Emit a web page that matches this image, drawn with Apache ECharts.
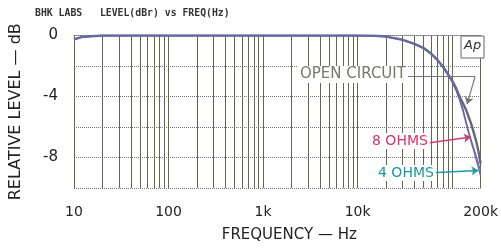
<!DOCTYPE html>
<html>
<head>
<meta charset="utf-8">
<script src="https://cdn.jsdelivr.net/npm/echarts@6/dist/echarts.min.js"></script>
<style>
  html, body { margin: 0; padding: 0; background: #fff; }
  #chart { width: 501px; height: 248px; }
</style>
</head>
<body>
<div id="chart"></div>
<script>
// frequencies (Hz)
var freqs = [10, 12, 15, 20, 30, 50, 100, 1000, 10000, 15000, 20000, 30000, 40000, 50000, 60000,
             70000, 80000, 90000, 100000, 110000, 120000, 130000, 140000, 150000, 160000,
             170000, 180000, 190000, 200000];
var openCircuit = [-0.25, -0.1, -0.05, 0, 0, 0, 0, 0, 0, -0.02, -0.07, -0.28, -0.55, -0.82, -1.18,
                   -1.6, -2.05, -2.5, -2.95, -3.45, -4.0, -4.45, -4.85, -5.35, -5.85,
                   -6.4, -6.95, -7.6, -8.4];
var ohms8 = [-0.25, -0.1, -0.05, 0, 0, 0, 0, 0, 0, -0.02, -0.07, -0.28, -0.56, -0.84, -1.2,
             -1.62, -2.08, -2.55, -3.0, -3.55, -4.15, -4.8, -5.6, -6.3, -6.9,
             -7.4, -7.9, -8.4, -8.9];
var ohms4 = [-0.25, -0.1, -0.05, 0, 0, 0, 0, 0, 0, -0.02, -0.07, -0.29, -0.57, -0.86, -1.22,
             -1.65, -2.1, -2.58, -3.05, -3.6, -4.25, -4.95, -5.75, -6.45, -7.05,
             -7.6, -8.15, -8.7, -9.2];

var xLabels = [10, 100, 1000, 10000, 200000];
var gridFreqs = [];
[10, 100, 1000, 10000].forEach(function (d) {
    for (var k = 1; k <= 9; k++) gridFreqs.push(d * k);
});
gridFreqs.push(100000, 200000);

function pairs(vals) {
    return freqs.map(function (f, i) { return [f, vals[i]]; });
}
function fmtFreq(v) {
    if (v >= 1000) return (v / 1000) + 'k';
    return String(v);
}

var chart = echarts.init(document.getElementById('chart'));

var labelFont = 'DejaVu Sans';

var option = {
    animation: false,
    backgroundColor: '#fff',
    grid: { left: 72, right: 17, top: 35.5, bottom: 60 },
    xAxis: {
        type: 'log',
        logBase: 10,
        min: 10,
        max: 200000,
        name: 'FREQUENCY — Hz',
        nameLocation: 'middle',
        nameGap: 40,
        nameTextStyle: { fontFamily: labelFont, fontSize: 15, color: '#222', padding: [0, 0, 0, 24] },
        axisLine: { show: true, lineStyle: { color: '#777', type: 'dotted' } },
        axisTick: { show: false, customValues: gridFreqs },
        axisLabel: {
            customValues: xLabels,
            formatter: fmtFreq,
            fontFamily: labelFont,
            fontSize: 14,
            color: '#222',
            margin: 17
        },
        splitLine: { show: true, lineStyle: { color: '#66664f', width: 1 } }
    },
    yAxis: {
        type: 'value',
        min: -10,
        max: 0,
        interval: 2,
        name: 'RELATIVE LEVEL — dB',
        nameLocation: 'middle',
        nameGap: 50,
        nameTextStyle: { fontFamily: labelFont, fontSize: 16, color: '#222' },
        axisLine: { show: false },
        axisTick: { show: false },
        axisLabel: {
            formatter: function (v) { return (v % 4 === 0 && v > -10) ? String(v) : ''; },
            fontFamily: labelFont,
            fontSize: 15,
            color: '#222',
            margin: 16
        },
        splitLine: { show: true, lineStyle: { color: '#777', type: 'dotted' } }
    },
    series: [
        {
            name: 'open circuit',
            type: 'line',
            data: pairs(openCircuit),
            showSymbol: false,
            lineStyle: { color: '#66666f', width: 2.4 },
            markLine: {
                silent: true,
                symbol: ['none', 'none'],
                label: { show: false },
                lineStyle: { color: '#777', width: 1.2, type: 'solid' },
                data: [[{ coord: [34000, -2.7] }, { coord: [175000, -2.7] }]]
            }
        },
        {
            name: '8 ohms',
            type: 'line',
            data: pairs(ohms8),
            showSymbol: false,
            lineStyle: { color: '#8a64aa', width: 1.3 },
            markLine: {
                silent: true,
                symbol: ['none', 'arrow'],
                symbolSize: 7,
                label: { show: false },
                data: [
                    [{ coord: [175000, -2.7], lineStyle: { color: '#777', width: 1.2, type: 'solid' } },
                     { coord: [144000, -4.5] }],
                    [{ coord: [56000, -7.05], lineStyle: { color: '#c8407a', width: 1.5, type: 'solid' } },
                     { coord: [158000, -6.66] }],
                    [{ coord: [61000, -9.0], lineStyle: { color: '#1a9e9e', width: 1.5, type: 'solid' } },
                     { coord: [190000, -8.85] }]
                ]
            }
        },
        {
            name: '4 ohms',
            type: 'line',
            data: pairs(ohms4),
            showSymbol: false,
            lineStyle: { color: '#5a6cb0', width: 1.3 }
        }
    ],
    graphic: [
        {
            type: 'text', left: 35, top: 8,
            style: { text: 'BHK LABS   LEVEL(dBr) vs FREQ(Hz)', fontFamily: 'DejaVu Sans Mono',
                     fontWeight: 'bold', fontSize: 9.8, fill: '#333' }
        },
        {
            type: 'text', left: 298, top: 66, z: 10,
            style: { text: 'OPEN CIRCUIT', fontFamily: labelFont, fontSize: 15, fill: '#77776a',
                     backgroundColor: '#fff', padding: [1, 2, 1, 2] }
        },
        {
            type: 'text', left: 370, top: 133, z: 10,
            style: { text: '8 OHMS', fontFamily: labelFont, fontSize: 14, fill: '#d8326a',
                     backgroundColor: '#fff', padding: [1, 2, 1, 2] }
        },
        {
            type: 'text', left: 376, top: 165, z: 10,
            style: { text: '4 OHMS', fontFamily: labelFont, fontSize: 14, fill: '#1a9a9a',
                     backgroundColor: '#fff', padding: [1, 2, 1, 2] }
        },
        {
            type: 'rect', shape: { x: 461, y: 36, width: 23, height: 22 }, z: 10,
            style: { fill: '#fff', stroke: '#666', lineWidth: 1 }
        },
        {
            type: 'text', left: 464, top: 39, z: 11,
            style: { text: 'Ap', fontFamily: labelFont, fontStyle: 'italic',
                     fontSize: 13, fill: '#333' }
        }
    ]
};

chart.setOption(option);
</script>
</body>
</html>
